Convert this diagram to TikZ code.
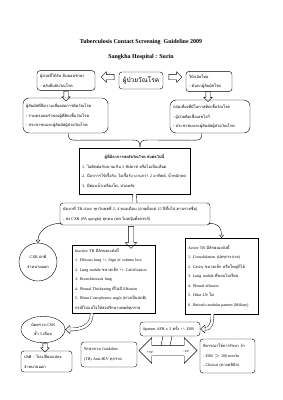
\documentclass[tikz,border=0pt]{standalone}
\usepackage{fontspec}
\setmainfont{Liberation Serif}
\newfontfamily\thai[Script=Thai]{Loma}
\newcommand{\tha}[1]{{\thai #1}}
\usetikzlibrary{arrows.meta,positioning,shapes.geometric,shapes.arrows,calc}

\begin{document}
\begin{tikzpicture}[x=1pt,y=-1pt,
    every node/.style={font=\fontsize{4}{9.5}\selectfont,inner sep=3pt},
    box/.style={draw,rounded corners=3pt,align=left},
    sqbox/.style={draw,align=left},
    blk/.style={draw,single arrow,fill=white,inner sep=2.5pt,
                single arrow head extend=2.5pt},
    link/.style={-{Triangle[open,length=3pt,width=5pt]},thin},
    tube/.style={double,double distance=2.5pt,thin}]
  \useasboundingbox (0,0) rectangle (283,400);

  %% Heading
  \node[font=\fontsize{6}{7}\selectfont\bfseries] (title) at (141,42)
        {Tuberculosis Contact Screening\ \ Guideline 2009};
  \node[font=\fontsize{6}{7}\selectfont\bfseries] (hosp) at (141,57)
        {Sangkha Hospital : Surin};

  %% Source case (top row)
  \node[box,minimum width=44pt,minimum height=17pt,
        font=\fontsize{6.5}{8}\selectfont] (src) at (141,80.5)
        {\tha{ผู้ป่วยวัณโรค}};
  \node[box,text width=52pt,minimum height=19pt] (cl) at (66,80.5)
        {\tha{ผู้ป่วยที่ได้รับ ยินยอมรักษา}\\\tha{- หลังยืนยันวัณโรค}};
  \node[box,text width=40pt,minimum height=19pt] (cr) at (209,81.5)
        {\tha{วินิจฉัยใหม่}\\\tha{- ค้นหาผู้สัมผัสโรค}};
  \node[blk,minimum height=13pt,shape border rotate=180] (al) at (109,77) {};
  \node[blk,minimum height=13pt,shape border rotate=0] (ar) at (174,77) {};

  %% Contact groups
  \node[blk,minimum height=10pt,inner sep=2pt,single arrow head extend=2pt,
        shape border rotate=270] (dl) at (66,95) {};
  \node[blk,minimum height=10pt,inner sep=2pt,single arrow head extend=2pt,
        shape border rotate=270] (dr) at (208,95.5) {};
  \node[box,rounded corners=6pt,text width=79pt,minimum height=35pt] (gl) at (65.5,115.5)
        {\tha{ผู้สัมผัสที่มีความเสี่ยงต่อการติดวัณโรค}\\
         \tha{- ร่วมครอบครัวของผู้ที่ติดเชื้อวัณโรค}\\
         \tha{- ประชาชนและผู้สัมผัสผู้ป่วยวัณโรค}};
  \node[box,rounded corners=6pt,text width=74pt,minimum height=33pt] (gr) at (210,116.5)
        {\tha{กลุ่มเสี่ยงที่มีโอกาสติดเชื้อวัณโรค}\\
         \tha{- ผู้ป่วยติดเชื้อเอชไอวี}\\
         \tha{- ประชาชนและผู้สัมผัสผู้ป่วยวัณโรค}};
  \coordinate (tip) at (140,147);
  \draw ($(gl.south east)+(-40,0)$) .. controls +(0,7) and +(-8,0) .. +(10,7)
        -- ($(tip)+(-8,-7)$) .. controls +(6,0) and +(0,-6) .. (tip);
  \draw ($(gr.south west)+(32,0)$) .. controls +(0,7) and +(8,0) .. +(-10,7)
        -- ($(tip)+(8,-7)$) .. controls +(-6,0) and +(0,-6) .. (tip);

  %% Symptoms
  \node[sqbox,text width=105pt,minimum height=46pt] (sym) at (134.5,171)
        {\makebox[\linewidth]{\bfseries\tha{ผู้ที่มีอาการสงสัยวัณโรค ดังต่อไปนี้}}\\
         1. \tha{ไอติดต่อกันนานเกิน} 2 \tha{สัปดาห์ หรือไอเป็นเลือด}\\
         2. \tha{มีอาการไข้เรื้อรัง, ไอเรื้อรัง นานกว่า} 2 \tha{อาทิตย์, น้ำหนักลด}\\
         3. \tha{มีต่อมน้ำเหลืองโต, ปวดหลัง}};

  %% Clinic appointment
  \node[box,text width=144pt,minimum height=22pt] (clin) at (135,214)
        {\tha{นัดมาที่} TB clinic \tha{ทุกวันพุธที่} 2, 4 \tha{ของเดือน (อายุตั้งแต่} 15 \tha{ปีขึ้นไป ตามรายชื่อ)}\\
         - \tha{ส่ง} CXR (PA upright) \tha{ทุกคน (ยกเว้นหญิงตั้งครรภ์)}};
  \draw[tube,double distance=3.5pt] (sym.south) -- (clin.north);

  %% CXR reading
  \node[draw,circle,minimum size=38pt,align=center] (ok) at (38,262)
        {CXR \tha{ปกติ}\\\tha{จำหน่ายออก}};
  \node[blk,minimum height=22pt,single arrow head extend=3pt,
        shape border rotate=270] (da) at (131,236) {};
  \node[sqbox,text width=77pt,minimum height=64pt] (inact) at (113.5,279)
        {Inactive TB \tha{มีลักษณะดังนี้}\\
         1. Fibrosis lung +/- Sign of volume loss\\
         2. Lung nodule \tha{ขนาดเล็ก} +/- Calcification\\
         3. Bronchiectasis lung\\
         4. Pleural Thickening \tha{ที่ไม่มี} Effusion\\
         5. Blunt Costophrenic angle (\tha{ทางเป็นปกติ})\\
         \tha{กรณีไม่แน่ใจให้ส่งปรึกษาแพทย์ทุกราย}};
  \node[sqbox,text width=67pt,minimum height=76pt] (act) at (221.5,276)
        {Active TB \tha{มีลักษณะดังนี้}\\
         1. Consolidation (\tha{ปุยๆกระจาย})\\
         2. Cavity \tha{ขนาดเล็ก หรือใหญ่ก็ได้}\\
         3. Lung nodule \tha{ที่ขอบไม่เรียบ}\\
         4. Pleural effusion\\
         5. Hilar LN \tha{โต}\\
         6. Reticulo-nodular pattern (Miliary)};
  \draw[link] ($(clin.south west)+(2,-2)$) .. controls +(-16,0) and +(0,-10) .. (ok.north);
  \draw[link] ($(clin.south east)+(-2,-2)$) .. controls +(12,0) and +(0,-8) .. (act.north);

  %% Follow up (left)
  \node[draw,ellipse,minimum width=44pt,minimum height=25pt,align=center] (rec) at (43,329.5)
        {\tha{นัดตรวจ} CXR\\\tha{ซ้ำ} 3 \tha{เดือน}};
  \node[blk,minimum height=9pt,inner sep=2pt,single arrow head extend=2pt,
        shape border rotate=270] (dd) at (45,346.5) {};
  \node[box,text width=45pt,minimum height=21pt] (dis) at (46.5,361.5)
        {\tha{ปกติ : ไม่เปลี่ยนแปลง}\\\tha{จำหน่ายออก}};
  \draw[tube,-{Triangle[open,length=5pt,width=9pt]}]
        ($(inact.south west)+(20,0)$) .. controls +(0,14) and +(14,0) .. (rec.east);

  %% Sputum and result
  \node[box,text width=54pt,minimum height=14pt] (spt) at (170,329)
        {Sputum AFB x 3 \tha{ครั้ง} +/- ESR};
  \draw[tube,-{Triangle[open,length=5pt,width=9pt]}]
        ($(act.south)+(-9,0)$) .. controls +(0,10) and +(10,0) .. (spt.east);
  \node[draw,double arrow,fill=white,minimum height=58pt,inner sep=5pt,
        double arrow head extend=7.5pt] (res) at (168,350.5) {};
  \draw ($(spt.south)+(-7,0)$) -- ($(res.center)+(-7,-5)$);
  \draw ($(spt.south)+(2,0)$) -- ($(res.center)+(2,-5)$);
  \node (pos) at (150,352) {+ve};
  \node (neg) at (186,352) {-ve};
  \node[box,text width=50pt,minimum height=25pt] (trt) at (109,354.5)
        {\tha{รักษาตาม} Guideline\\(TB) Anti-HIV \tha{ทุกราย}};
  \node[box,text width=49pt,minimum height=34pt] (fol) at (227.5,356)
        {\tha{พิจารณาให้การรักษา ถ้า}\\- ESR $>$ 100 mm/hr\\- Clinical (\tha{ทางคลินิก})};
\end{tikzpicture}
\end{document}
